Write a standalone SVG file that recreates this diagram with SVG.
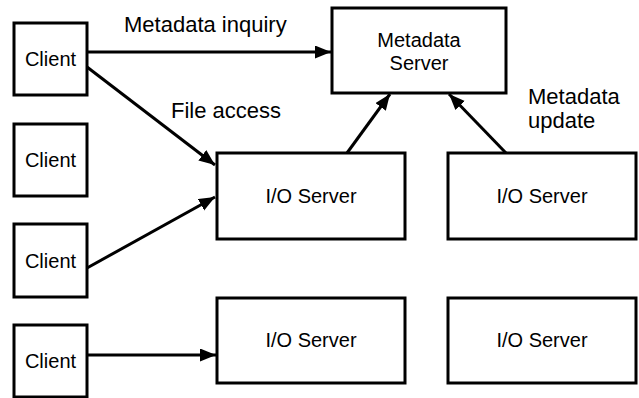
<svg xmlns="http://www.w3.org/2000/svg" width="639" height="398" viewBox="0 0 639 398">
  <defs>
    <marker id="arrow" markerUnits="userSpaceOnUse" markerWidth="18" markerHeight="14" refX="16" refY="6.5" orient="auto">
      <path d="M0,0 L16,6.5 L0,13 z" fill="#000"/>
    </marker>
    <style>
      .box { fill: #fff; stroke: #000; stroke-width: 3; }
      .lbl { font-family: "Liberation Sans", Arial, sans-serif; font-size: 20px; fill: #000; text-anchor: middle; }
      .edge { font-family: "Liberation Sans", Arial, sans-serif; font-size: 22px; fill: #000; }
      .conn { stroke: #000; stroke-width: 3; fill: none; marker-end: url(#arrow); }
    </style>
  </defs>
  <rect width="639" height="398" fill="#fff"/>

  <!-- connectors -->
  <g id="connectors">
    <line class="conn" x1="87" y1="52" x2="331" y2="52"/>
    <line class="conn" x1="87" y1="67" x2="215" y2="165"/>
    <line class="conn" x1="87" y1="268" x2="215" y2="197"/>
    <line class="conn" x1="87" y1="355" x2="216" y2="355"/>
    <line class="conn" x1="347" y1="153" x2="390" y2="94"/>
    <line class="conn" x1="506" y1="153" x2="449" y2="94"/>
    <text class="edge" x="124" y="32">Metadata inquiry</text>
    <text class="edge" x="171" y="118">File access</text>
    <text class="edge" x="528" y="104">Metadata</text>
    <text class="edge" x="528" y="128">update</text>
  </g>

  <!-- clients -->
  <g id="client1">
    <rect class="box" x="14" y="23" width="73" height="72"/>
    <text class="lbl" x="50.5" y="66">Client</text>
  </g>
  <g id="client2">
    <rect class="box" x="14" y="124" width="73" height="72"/>
    <text class="lbl" x="50.5" y="167">Client</text>
  </g>
  <g id="client3">
    <rect class="box" x="14" y="224" width="73" height="73"/>
    <text class="lbl" x="50.5" y="268">Client</text>
  </g>
  <g id="client4">
    <rect class="box" x="14" y="325" width="73" height="72"/>
    <text class="lbl" x="50.5" y="368">Client</text>
  </g>

  <!-- servers -->
  <g id="metadata-server">
    <rect class="box" x="332" y="8" width="174" height="85"/>
    <text class="lbl" x="419" y="47">Metadata</text>
    <text class="lbl" x="419" y="70">Server</text>
  </g>
  <g id="io-server1">
    <rect class="box" x="217" y="153" width="188" height="86"/>
    <text class="lbl" x="311" y="203">I/O Server</text>
  </g>
  <g id="io-server2">
    <rect class="box" x="448" y="153" width="188" height="86"/>
    <text class="lbl" x="542" y="203">I/O Server</text>
  </g>
  <g id="io-server3">
    <rect class="box" x="217" y="298" width="188" height="85"/>
    <text class="lbl" x="311" y="347">I/O Server</text>
  </g>
  <g id="io-server4">
    <rect class="box" x="448" y="298" width="188" height="85"/>
    <text class="lbl" x="542" y="347">I/O Server</text>
  </g>
</svg>
